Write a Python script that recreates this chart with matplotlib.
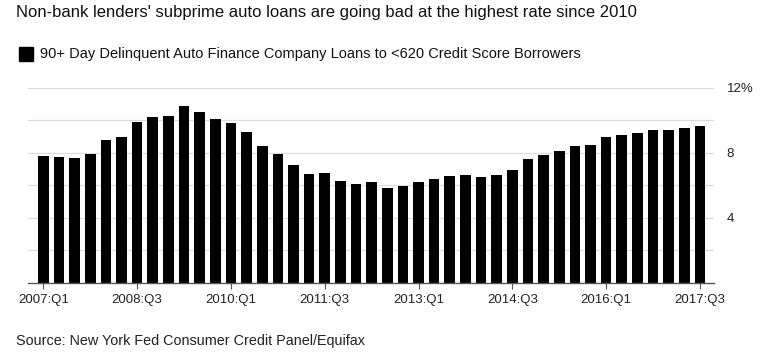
import matplotlib
matplotlib.use("Agg")
import matplotlib.pyplot as plt

plt.rcParams['font.family'] = ['Liberation Sans', 'DejaVu Sans']

quarters = [f"{y}:Q{q}" for y in range(2007, 2018) for q in range(1, 5)][:43]
values = [7.82, 7.76, 7.70, 7.94, 8.79, 8.97, 9.92, 10.23, 10.29, 10.88,
          10.51, 10.10, 9.81, 9.28, 8.42, 7.94, 7.28, 6.69, 6.75, 6.28,
          6.09, 6.21, 5.80, 5.93, 6.21, 6.40, 6.56, 6.63, 6.50, 6.63,
          6.95, 7.59, 7.88, 8.13, 8.42, 8.48, 8.97, 9.09, 9.22, 9.38,
          9.38, 9.51, 9.67]
tick_labels = ["2007:Q1", "2008:Q3", "2010:Q1", "2011:Q3", "2013:Q1",
               "2014:Q3", "2016:Q1", "2017:Q3"]
y_ticks = [4, 8, 12]
y_tick_labels = ["4", "8", "12%"]
grid_levels = [2, 4, 6, 8, 10, 12]

W, H = 762, 358
fig = plt.figure(figsize=(W / 100, H / 100), dpi=100)
ax = fig.add_axes([28 / W, 1 - 282.5 / H, (714 - 28) / W, (282.5 - 88) / H])

x = list(range(len(values)))
ax.bar(x, values, width=0.68, color='black', zorder=3)

ax.set_xlim(-0.98, 42.9)
ax.set_ylim(0, 12)
for g in grid_levels:
    ax.axhline(g, color='#dcdcdc', lw=0.9, zorder=1)

tick_pos = [quarters.index(t) for t in tick_labels]
ax.set_xticks(tick_pos)
ax.set_xticklabels(tick_labels, fontsize=9.5, color='#222222')
ax.tick_params(axis='x', length=4, width=0.8, color='#555555', pad=4)

ax.yaxis.tick_right()
ax.set_yticks(y_ticks)
ax.set_yticklabels(y_tick_labels, fontsize=9.5, color='#222222')
ax.tick_params(axis='y', length=0, pad=9)
for lab in ax.get_yticklabels():
    lab.set_horizontalalignment('left')

for s in ['top', 'right', 'left']:
    ax.spines[s].set_visible(False)
ax.spines['bottom'].set_color('#555555')
ax.spines['bottom'].set_linewidth(1.0)
ax.spines['bottom'].set_zorder(4)

fig.text(16 / W, 1 - 13 / H,
         "Non-bank lenders' subprime auto loans are going bad at the highest rate since 2010",
         fontsize=12, color='#111111', va='center', ha='left')
fig.patches.append(matplotlib.patches.Rectangle((19 / W, 1 - 61 / H), 13.5 / W, 14 / H,
                                                transform=fig.transFigure, color='black'))
fig.text(40 / W, 1 - 54 / H,
         "90+ Day Delinquent Auto Finance Company Loans to <620 Credit Score Borrowers",
         fontsize=10.5, color='#111111', va='center', ha='left')
fig.text(16.5 / W, 1 - 341.5 / H, "Source: New York Fed Consumer Credit Panel/Equifax",
         fontsize=10.4, color='#222222', va='center', ha='left')

fig.savefig("out.png", dpi=100)
